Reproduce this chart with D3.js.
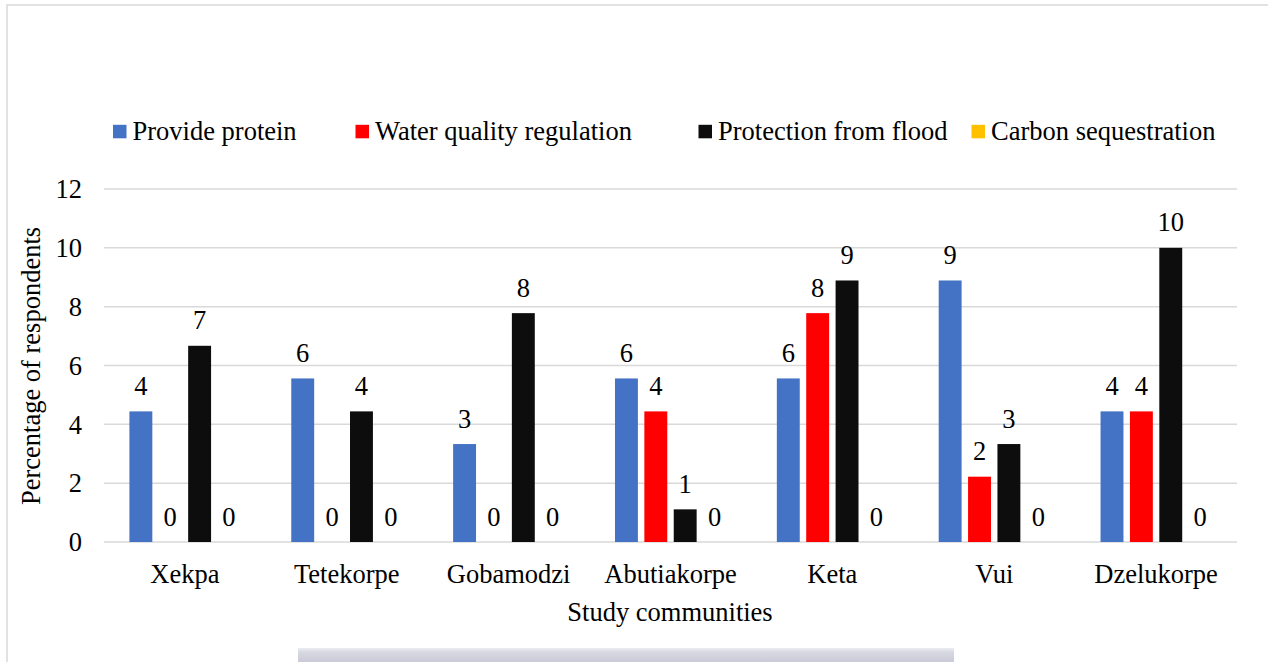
<!DOCTYPE html>
<html>
<head>
<meta charset="utf-8">
<script src="https://cdn.jsdelivr.net/npm/d3@7"></script>
<style>
  html, body { margin: 0; padding: 0; background: #ffffff; }
  svg { display: block; }
  svg text { font-family: 'Liberation Serif', 'DejaVu Serif', serif; fill: #000; }
</style>
</head>
<body>
<svg id="chart" width="1268" height="662"></svg>
<script>
// Study communities (x-axis categories)
const communities = ["Xekpa", "Tetekorpe", "Gobamodzi", "Abutiakorpe", "Keta", "Vui", "Dzelukorpe"];

// Series names (legend order)
const seriesNames = ["Provide protein", "Water quality regulation", "Protection from flood", "Carbon sequestration"];

// Percentage of respondents per community, one array per series
const provideProtein         = [4.44, 5.56, 3.33, 5.56, 5.56, 8.89, 4.44];
const waterQualityRegulation = [0,    0,    0,    4.44, 7.78, 2.22, 4.44];
const protectionFromFlood    = [6.67, 4.44, 7.78, 1.11, 8.89, 3.33, 10];
const carbonSequestration    = [0,    0,    0,    0,    0,    0,    0];

// Y-axis tick values
const yTicks = [0, 2, 4, 6, 8, 10, 12];

const seriesValues = [provideProtein, waterQualityRegulation, protectionFromFlood, carbonSequestration];
const seriesColors = ["#4472C4", "#FF0000", "#0D0D0D", "#FFC000"];

const svg = d3.select("#chart");
const FONT = "'Liberation Serif', 'DejaVu Serif', serif";
const fontSize = "26.5px";

// Apply the serif text style to a selection of text elements
function serif(sel) {
  return sel.style("font-family", FONT).style("font-size", fontSize).style("fill", "#000");
}

// Plot area
const plotLeft = 104, plotRight = 1237, plotTop = 189, plotBottom = 542;

// Outer frame (left and top edges)
svg.append("path")
  .attr("d", "M7,662 L7,5 L1268,5")
  .attr("fill", "none")
  .attr("stroke", "#d9d9d9")
  .attr("stroke-width", 1.5);

// Soft grey band at the bottom edge
const bandGrad = svg.append("defs").append("linearGradient")
  .attr("id", "bandGrad").attr("x1", 0).attr("y1", 0).attr("x2", 0).attr("y2", 1);
bandGrad.append("stop").attr("offset", "0%").attr("stop-color", "#ececf2");
bandGrad.append("stop").attr("offset", "30%").attr("stop-color", "#d8d8e2");
bandGrad.append("stop").attr("offset", "100%").attr("stop-color", "#cbcbd8");
svg.append("rect")
  .attr("x", 298).attr("y", 648).attr("width", 656).attr("height", 14)
  .attr("fill", "url(#bandGrad)");

const y = d3.scaleLinear().domain([0, 12]).range([plotBottom, plotTop]);

const x0 = d3.scaleBand()
  .domain(communities)
  .range([plotLeft, plotRight])
  .paddingInner(0.274)
  .paddingOuter(0.137);

const x1 = d3.scaleBand()
  .domain(seriesNames)
  .range([0, x0.bandwidth()])
  .paddingInner(0.22)
  .paddingOuter(0.11);

// Horizontal gridlines
svg.append("g")
  .selectAll("line")
  .data(yTicks)
  .join("line")
  .attr("x1", plotLeft).attr("x2", plotRight)
  .attr("y1", d => y(d)).attr("y2", d => y(d))
  .attr("stroke", "#d9d9d9")
  .attr("stroke-width", 1.5);

// Y axis tick labels
const yAxis = d3.axisLeft(y).tickValues(yTicks).tickSize(0).tickPadding(0).tickFormat(d3.format("d"));
const gy = svg.append("g").attr("transform", `translate(${plotLeft - 22},0)`).call(yAxis);
gy.attr("font-family", null).attr("font-size", null);
gy.select(".domain").remove();
serif(gy.selectAll("text")).attr("dy", "0.33em");

// X axis category labels
const xAxis = d3.axisBottom(x0).tickSize(0).tickPadding(0);
const gx = svg.append("g").attr("transform", `translate(0,${plotBottom + 22})`).call(xAxis);
gx.attr("font-family", null).attr("font-size", null);
gx.select(".domain").remove();
serif(gx.selectAll("text")).attr("dy", "0.71em");

// Bars and value labels
const rows = communities.map((c, i) => ({
  community: c,
  items: seriesNames.map((s, j) => ({ series: s, value: seriesValues[j][i], color: seriesColors[j] }))
}));

const groups = svg.append("g")
  .selectAll("g")
  .data(rows)
  .join("g")
  .attr("transform", d => `translate(${x0(d.community)},0)`);

groups.selectAll("rect")
  .data(d => d.items)
  .join("rect")
  .attr("x", d => x1(d.series))
  .attr("width", x1.bandwidth())
  .attr("y", d => y(d.value))
  .attr("height", d => y(0) - y(d.value))
  .attr("fill", d => d.color);

const fmt = d3.format(".0f");
serif(groups.selectAll("text")
  .data(d => d.items)
  .join("text")
  .attr("x", d => x1(d.series) + x1.bandwidth() / 2)
  .attr("y", d => y(d.value) - 16.5)
  .attr("text-anchor", "middle")
  .text(d => fmt(d.value)));

// Axis titles
serif(svg.append("text")
  .attr("transform", `translate(40,366) rotate(-90)`)
  .attr("text-anchor", "middle")
  .text("Percentage of respondents"));

serif(svg.append("text")
  .attr("x", 670)
  .attr("y", 620.5)
  .attr("text-anchor", "middle")
  .text("Study communities"));

// Legend
const legendX = [113, 355.5, 698.5, 971.5];
const legendY = 131.5;
const legend = svg.append("g")
  .selectAll("g")
  .data(seriesNames)
  .join("g")
  .attr("transform", (d, i) => `translate(${legendX[i]},${legendY})`);

legend.append("rect")
  .attr("x", 0).attr("y", -6.7)
  .attr("width", 13.5).attr("height", 13.5)
  .attr("fill", (d, i) => seriesColors[i]);

serif(legend.append("text")
  .attr("x", 19.5)
  .attr("y", 8)
  .text(d => d));
</script>
</body>
</html>
